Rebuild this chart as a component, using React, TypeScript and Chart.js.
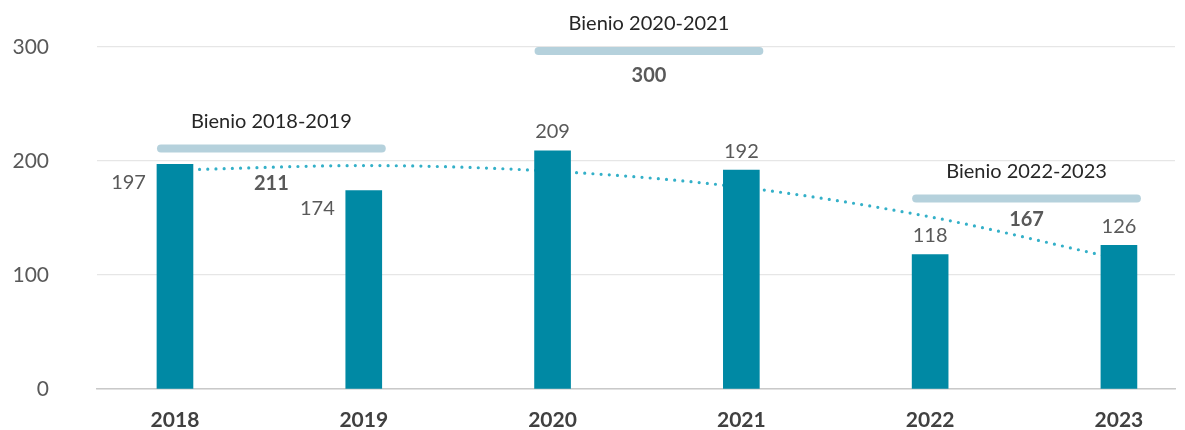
import React, { useEffect, useRef } from "react";
import { Chart, registerables } from "chart.js";

Chart.register(...registerables);

const years = [2018, 2019, 2020, 2021, 2022, 2023];
const values = [197, 174, 209, 192, 118, 126];
const trendValues = [192, 196, 191, 177, 151, 114];
const valueLabelSide = ["left", "left", "top", "top", "top", "top"];

const bienioLabels = ["Bienio 2018-2019", "Bienio 2020-2021", "Bienio 2022-2023"];
const bienioTotals = [211, 300, 167];
const bienioFrom = [2018, 2020, 2022];
const bienioTo = [2019, 2021, 2023];

const yTicks = [0, 100, 200, 300];

const FONT = "Lato, 'Open Sans', sans-serif";
const BAR_COLOR = "#0089a4";
const TREND_COLOR = "#34b0c8";
const BIENIO_COLOR = "#b5d1dc";
const TEXT_GRAY = "#595959";
const TEXT_DARK = "#262626";
const BAR_W = 36;
const totalOffsets = [35, 25, 21];

const overlayPlugin = {
  id: "overlay",
  afterDatasetsDraw(chart: any) {
    const { ctx, scales, chartArea } = chart;
    const xs = scales.x;
    const ys = scales.y;
    ctx.save();
    const meta = chart.getDatasetMeta(0);
    ctx.font = `20px ${FONT}`;
    ctx.fillStyle = TEXT_GRAY;
    ctx.textBaseline = "middle";
    meta.data.forEach((bar: any, i: number) => {
      const side = valueLabelSide[i];
      const top = bar.y;
      if (side === "left") {
        ctx.textAlign = "right";
        ctx.fillText(String(values[i]), bar.x - BAR_W / 2 - 11, top + 18);
      } else {
        ctx.textAlign = "center";
        ctx.fillText(String(values[i]), bar.x, top - 19);
      }
    });
    bienioLabels.forEach((lab, i) => {
      const x1 = xs.getPixelForValue(bienioFrom[i]) - BAR_W / 2 + 4;
      const x2 = xs.getPixelForValue(bienioTo[i]) + BAR_W / 2;
      const y = Math.max(ys.getPixelForValue(bienioTotals[i]), chartArea.top + 4);
      ctx.strokeStyle = BIENIO_COLOR;
      ctx.lineWidth = 8;
      ctx.lineCap = "round";
      ctx.beginPath();
      ctx.moveTo(x1, y);
      ctx.lineTo(x2, y);
      ctx.stroke();
      const cx = (x1 + x2) / 2;
      ctx.textAlign = "center";
      ctx.textBaseline = "middle";
      ctx.font = `20px ${FONT}`;
      ctx.fillStyle = TEXT_DARK;
      ctx.fillText(lab, cx, y - 27);
      ctx.font = `bold 20px ${FONT}`;
      ctx.fillStyle = TEXT_GRAY;
      ctx.fillText(String(bienioTotals[i]), cx, y + totalOffsets[i]);
    });
    ctx.restore();
  },
};

export default function App() {
  const canvasRef = useRef<HTMLCanvasElement | null>(null);

  useEffect(() => {
    document.body.style.margin = "0";
    const canvas = canvasRef.current;
    if (!canvas) return;
    const chart = new Chart(canvas, {
      type: "bar",
      data: {
        datasets: [
          {
            type: "bar",
            data: years.map((y, i) => ({ x: y, y: values[i] })),
            backgroundColor: BAR_COLOR,
            barThickness: BAR_W,
            order: 0,
          } as any,
          {
            type: "line",
            data: years.map((y, i) => ({ x: y, y: trendValues[i] })),
            borderColor: TREND_COLOR,
            borderWidth: 3.2,
            borderDash: [0, 8.2],
            borderCapStyle: "round",
            pointRadius: 0,
            tension: 0.4,
            cubicInterpolationMode: "monotone",
            fill: false,
            order: 1,
          } as any,
        ],
      },
      options: {
        animation: false,
        responsive: false,
        maintainAspectRatio: false,
        layout: { padding: { top: 47, right: 10, left: 0, bottom: 0 } },
        plugins: {
          legend: { display: false },
          tooltip: { enabled: false },
        },
        scales: {
          x: {
            type: "linear",
            offset: false,
            min: 2017.587,
            max: 2023.297,
            afterBuildTicks: (s: any) => {
              s.ticks = years.map((v) => ({ value: v }));
            },
            afterFit: (s: any) => {
              s.height = 41;
              s.paddingLeft = 0;
              s.paddingRight = 0;
            },
            grid: { display: false, drawTicks: false },
            border: { display: true, color: "#c9c9c9", width: 1.5 },
            ticks: {
              padding: 21,
              color: "#404040",
              maxRotation: 0,
              autoSkip: false,
              font: { family: FONT, size: 21, weight: "bold", lineHeight: 1 },
              callback: (v: any) => String(v),
            },
          },
          y: {
            min: 0,
            max: 300,
            afterBuildTicks: (s: any) => {
              s.ticks = yTicks.map((v) => ({ value: v }));
            },
            afterFit: (s: any) => {
              s.width = 97;
              s.paddingTop = 0;
              s.paddingBottom = 0;
            },
            grid: { color: "#e6e6e6", lineWidth: 1.2, drawTicks: false },
            border: { display: false },
            ticks: {
              padding: 48,
              color: TEXT_GRAY,
              font: { family: FONT, size: 21 },
            },
          },
        },
      },
      plugins: [overlayPlugin],
    });
    return () => chart.destroy();
  }, []);

  return (
    <div style={{ width: 1185, height: 430 }}>
      <canvas ref={canvasRef} width={1185} height={430} style={{ display: "block" }} />
    </div>
  );
}
